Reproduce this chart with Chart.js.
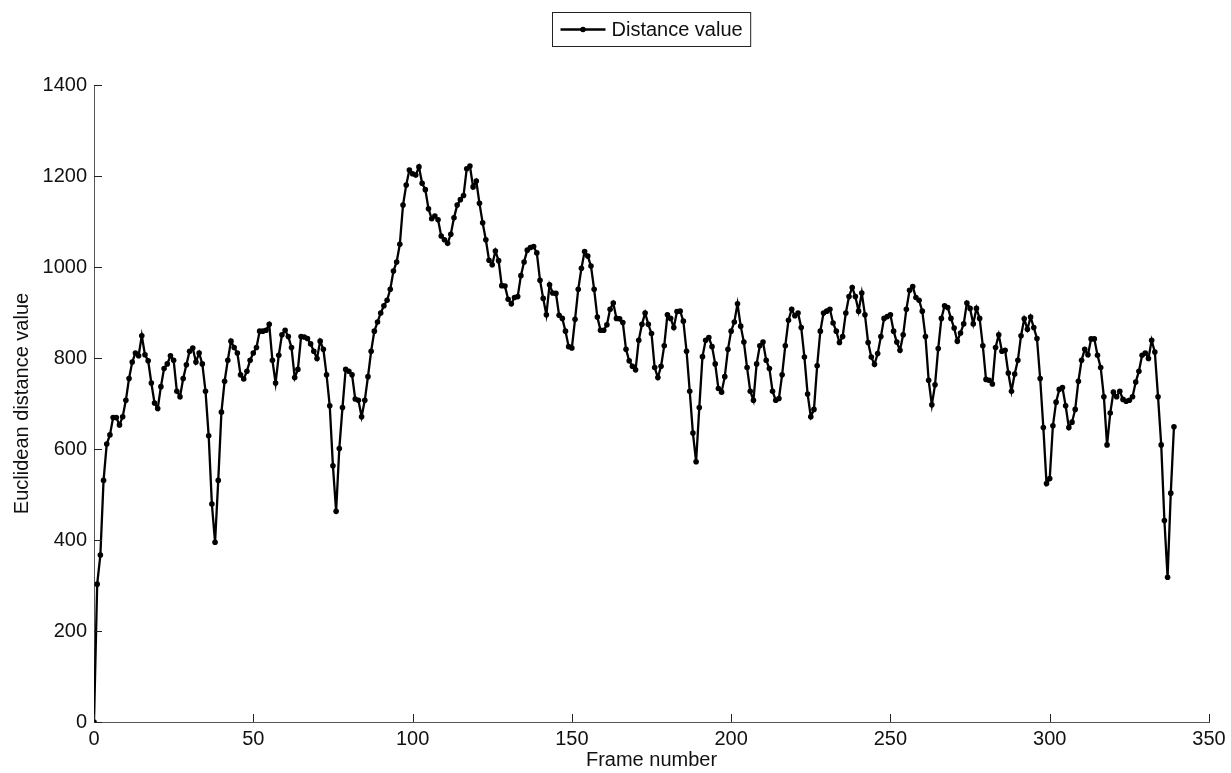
<!DOCTYPE html>
<html lang="en">
<head>
  <meta charset="UTF-8">
  <title>Distance value</title>
  <script src="https://cdn.jsdelivr.net/npm/chart.js"></script>
  <style>
    html, body {
      margin: 0;
      padding: 0;
      background: #ffffff;
    }
    #distanceChart {
      display: block;
    }
  </style>
</head>
<body>
  <canvas id="distanceChart" width="1231" height="773"></canvas>

  <script>
    // Euclidean distance per frame (frames 0..339)
    const distances = [
      0, 303, 367, 531, 611, 631, 669, 669, 653, 671,
      707, 755, 791, 811, 805, 849, 807, 794, 745, 701,
      689, 737, 777, 787, 805, 795, 727, 715, 755, 785,
      815, 822, 791, 811, 787, 727, 629, 479, 395, 531,
      681, 749, 795, 837, 823, 811, 763, 754, 771, 795,
      811, 823, 859, 859, 861, 874, 795, 745, 806, 851,
      861, 847, 823, 757, 775, 847, 846, 843, 831, 815,
      799, 837, 819, 763, 695, 563, 463, 601, 691, 775,
      771, 763, 710, 707, 671, 707, 759, 815, 859, 879,
      899, 915, 927, 951, 991, 1011, 1050, 1136, 1180, 1213,
      1205, 1202, 1220, 1184, 1170, 1128, 1106, 1112, 1104, 1068,
      1060, 1052, 1072, 1108, 1136, 1148, 1157, 1216, 1222, 1176,
      1189, 1140, 1097, 1060, 1015, 1005, 1035, 1014, 959, 958,
      929, 919, 933, 935, 981, 1011, 1037, 1043, 1045, 1031,
      971, 931, 895, 961, 943, 942, 894, 887, 859, 825,
      822, 885, 951, 997, 1034, 1024, 1002, 951, 890, 861,
      861, 873, 907, 921, 887, 886, 878, 819, 794, 782,
      774, 839, 874, 899, 874, 854, 779, 757, 782, 827,
      895, 887, 867, 902, 903, 881, 815, 727, 635, 572,
      691, 803, 839, 845, 825, 787, 733, 725, 759, 819,
      859, 879, 919, 870, 835, 779, 727, 707, 787, 827,
      835, 795, 777, 727, 707, 711, 763, 827, 883, 907,
      893, 899, 867, 802, 721, 671, 687, 783, 859, 899,
      903, 907, 877, 859, 834, 847, 899, 935, 955, 935,
      903, 943, 895, 834, 802, 786, 810, 847, 887, 891,
      895, 859, 835, 817, 851, 907, 949, 957, 933, 927,
      903, 847, 751, 697, 741, 821, 887, 915, 911, 887,
      866, 837, 855, 875, 921, 909, 875, 909, 887, 827,
      753, 751, 743, 823, 851, 815, 817, 767, 727, 765,
      795, 849, 886, 863, 890, 867, 843, 755, 647, 524,
      535, 651, 703, 731, 735, 695, 647, 659, 687, 749,
      795, 819, 807, 842, 842, 806, 779, 715, 609, 679,
      725, 715, 727, 709, 705, 707, 715, 747, 771, 806,
      811, 799, 839, 813, 715, 609, 443, 318, 503, 649
    ];
    // frame number is just the position in the sequence
    const frames = distances.map((_, i) => i);

    const xTicks = [0, 50, 100, 150, 200, 250, 300, 350];
    const yTicks = [0, 200, 400, 600, 800, 1000, 1200, 1400];

    const seriesName = 'Distance value';
    const xTitle = 'Frame number';
    const yTitle = 'Euclidean distance value';

    const FONT = "'Liberation Sans', Arial, sans-serif";
    Chart.defaults.font.family = FONT;
    Chart.defaults.font.size = 20;
    Chart.defaults.color = '#111';

    // MATLAB style: short tick marks pointing into the plot
    const inwardTicks = {
      id: 'inwardTicks',
      afterDraw(chart) {
        const { ctx, chartArea, scales } = chart;
        ctx.save();
        ctx.strokeStyle = '#222';
        ctx.lineWidth = 1;
        ctx.beginPath();
        xTicks.forEach(v => {
          const px = Math.round(scales.x.getPixelForValue(v)) + 0.5;
          ctx.moveTo(px, chartArea.bottom);
          ctx.lineTo(px, chartArea.bottom - 8);
        });
        yTicks.forEach(v => {
          const py = Math.round(scales.y.getPixelForValue(v)) + 0.5;
          ctx.moveTo(chartArea.left, py);
          ctx.lineTo(chartArea.left + 8, py);
        });
        ctx.stroke();
        ctx.restore();
      }
    };

    // boxed legend with line + marker sample, centred over the plot
    const boxLegend = {
      id: 'boxLegend',
      afterDraw(chart) {
        const { ctx, chartArea } = chart;
        const ds = chart.data.datasets[0];
        ctx.save();
        ctx.font = '20px ' + FONT;
        const tw = ctx.measureText(ds.label).width;
        const sample = 45;
        const w = 8 + sample + 6 + tw + 8;
        const h = 34;
        const left = Math.round((chartArea.left + chartArea.right) / 2 - w / 2) + 0.5;
        const top = 12.5;
        const cy = top + h / 2;
        ctx.fillStyle = '#fff';
        ctx.fillRect(left, top, w, h);
        ctx.strokeStyle = '#222';
        ctx.lineWidth = 1;
        ctx.strokeRect(left, top, w, h);
        ctx.strokeStyle = ds.borderColor;
        ctx.lineWidth = ds.borderWidth;
        ctx.beginPath();
        ctx.moveTo(left + 8, cy);
        ctx.lineTo(left + 8 + sample, cy);
        ctx.stroke();
        ctx.fillStyle = ds.pointBackgroundColor;
        ctx.beginPath();
        ctx.arc(left + 8 + sample / 2, cy, ds.pointRadius, 0, Math.PI * 2);
        ctx.fill();
        ctx.fillStyle = '#111';
        ctx.textBaseline = 'middle';
        ctx.textAlign = 'left';
        ctx.fillText(ds.label, left + 8 + sample + 6, cy + 1);
        ctx.restore();
      }
    };

    const ctx = document.getElementById('distanceChart').getContext('2d');
    new Chart(ctx, {
      type: 'line',
      data: {
        datasets: [{
          label: seriesName,
          data: frames.map((f, i) => ({ x: f, y: distances[i] })),
          borderColor: '#000',
          borderWidth: 2.3,
          pointRadius: 2.8,
          pointBackgroundColor: '#000',
          pointBorderWidth: 0,
          tension: 0
        }]
      },
      options: {
        responsive: false,
        animation: false,
        devicePixelRatio: 1,
        layout: {
          padding: { top: 85, right: 22, bottom: 0, left: 0 }
        },
        plugins: {
          legend: { display: false },
          tooltip: { enabled: false }
        },
        scales: {
          x: {
            type: 'linear',
            min: 0,
            max: 350,
            afterBuildTicks(scale) {
              scale.ticks = xTicks.map(v => ({ value: v }));
            },
            afterFit(scale) { scale.height = 51; },
            grid: { display: false, drawTicks: false },
            border: { display: true, color: '#555', width: 1 },
            ticks: {
              padding: 5,
              maxRotation: 0,
              autoSkip: false,
              callback: v => String(v)
            },
            title: {
              display: true,
              text: xTitle,
              padding: { top: 0, bottom: 1 }
            }
          },
          y: {
            min: 0,
            max: 1400,
            afterBuildTicks(scale) {
              scale.ticks = yTicks.map(v => ({ value: v }));
            },
            afterFit(scale) { scale.width = 94; },
            grid: { display: false, drawTicks: false },
            border: { display: true, color: '#555', width: 1 },
            ticks: {
              padding: 7,
              autoSkip: false,
              callback: v => String(v)
            },
            title: {
              display: true,
              text: yTitle,
              padding: { top: 10, bottom: 0 }
            }
          }
        }
      },
      plugins: [inwardTicks, boxLegend]
    });
  </script>
</body>
</html>
